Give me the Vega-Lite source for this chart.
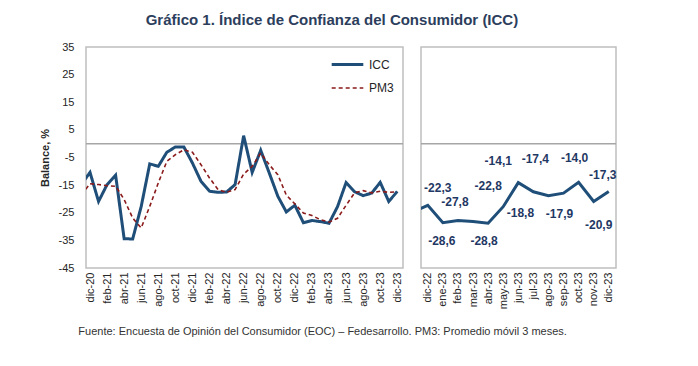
{
  "$schema": "https://vega.github.io/schema/vega-lite/v6.json",
  "padding": {"left": 38, "top": 13, "right": 0, "bottom": 0},
  "background": "white",
  "datasets": {
    "mensual": [
      {"i": -1, "mes": "nov-20", "ICC": -14.7, "PM3": -18.5},
      {"i": 0, "mes": "dic-20", "ICC": -10.4, "PM3": -14.5},
      {"i": 1, "mes": "ene-21", "ICC": -20.9, "PM3": -14.8},
      {"i": 2, "mes": "feb-21", "ICC": -14.8, "PM3": -15.2},
      {"i": 3, "mes": "mar-21", "ICC": -11.4, "PM3": -15.4},
      {"i": 4, "mes": "abr-21", "ICC": -34.4, "PM3": -20.2},
      {"i": 5, "mes": "may-21", "ICC": -34.5, "PM3": -26.9},
      {"i": 6, "mes": "jun-21", "ICC": -22.7, "PM3": -30.5},
      {"i": 7, "mes": "jul-21", "ICC": -7.3, "PM3": -22.7},
      {"i": 8, "mes": "ago-21", "ICC": -8.2, "PM3": -14.2},
      {"i": 9, "mes": "sep-21", "ICC": -3.1, "PM3": -6.4},
      {"i": 10, "mes": "oct-21", "ICC": -1.2, "PM3": -4.0},
      {"i": 11, "mes": "nov-21", "ICC": -1.2, "PM3": -2.2},
      {"i": 12, "mes": "dic-21", "ICC": -7.0, "PM3": -3.1},
      {"i": 13, "mes": "ene-22", "ICC": -13.6, "PM3": -7.6},
      {"i": 14, "mes": "feb-22", "ICC": -17.2, "PM3": -12.4},
      {"i": 15, "mes": "mar-22", "ICC": -17.6, "PM3": -16.6},
      {"i": 16, "mes": "abr-22", "ICC": -17.5, "PM3": -17.6},
      {"i": 17, "mes": "may-22", "ICC": -14.8, "PM3": -16.6},
      {"i": 18, "mes": "jun-22", "ICC": 2.9, "PM3": -11.0},
      {"i": 19, "mes": "jul-22", "ICC": -10.4, "PM3": -8.2},
      {"i": 20, "mes": "ago-22", "ICC": -2.4, "PM3": -3.4},
      {"i": 21, "mes": "sep-22", "ICC": -10.6, "PM3": -7.6},
      {"i": 22, "mes": "oct-22", "ICC": -19.0, "PM3": -11.2},
      {"i": 23, "mes": "nov-22", "ICC": -24.7, "PM3": -18.6},
      {"i": 24, "mes": "dic-22", "ICC": -22.3, "PM3": -21.8},
      {"i": 25, "mes": "ene-23", "ICC": -28.6, "PM3": -25.1},
      {"i": 26, "mes": "feb-23", "ICC": -27.8, "PM3": -26.0},
      {"i": 27, "mes": "mar-23", "ICC": -28.2, "PM3": -27.5},
      {"i": 28, "mes": "abr-23", "ICC": -28.8, "PM3": -28.4},
      {"i": 29, "mes": "may-23", "ICC": -22.8, "PM3": -27.0},
      {"i": 30, "mes": "jun-23", "ICC": -14.1, "PM3": -22.3},
      {"i": 31, "mes": "jul-23", "ICC": -17.4, "PM3": -17.8},
      {"i": 32, "mes": "ago-23", "ICC": -18.8, "PM3": -17.0},
      {"i": 33, "mes": "sep-23", "ICC": -17.9, "PM3": -17.8},
      {"i": 34, "mes": "oct-23", "ICC": -14.0, "PM3": -17.2},
      {"i": 35, "mes": "nov-23", "ICC": -20.9, "PM3": -17.6},
      {"i": 36, "mes": "dic-23", "ICC": -17.3, "PM3": -17.4}
    ],
    "ultimo": [
      {"i": -1, "mes": "nov-22", "ICC": -24.7},
      {"i": 0, "mes": "dic-22", "ICC": -22.3},
      {"i": 1, "mes": "ene-23", "ICC": -28.6},
      {"i": 2, "mes": "feb-23", "ICC": -27.8},
      {"i": 3, "mes": "mar-23", "ICC": -28.2},
      {"i": 4, "mes": "abr-23", "ICC": -28.8},
      {"i": 5, "mes": "may-23", "ICC": -22.8},
      {"i": 6, "mes": "jun-23", "ICC": -14.1},
      {"i": 7, "mes": "jul-23", "ICC": -17.4},
      {"i": 8, "mes": "ago-23", "ICC": -18.8},
      {"i": 9, "mes": "sep-23", "ICC": -17.9},
      {"i": 10, "mes": "oct-23", "ICC": -14.0},
      {"i": 11, "mes": "nov-23", "ICC": -20.9},
      {"i": 12, "mes": "dic-23", "ICC": -17.3}
    ],
    "cero": [{"v": 0}]
  },
  "title": {
    "text": "Fuente: Encuesta de Opinión del Consumidor (EOC) – Fedesarrollo. PM3: Promedio móvil 3 meses.",
    "orient": "bottom",
    "anchor": "start",
    "fontSize": 11,
    "fontWeight": "normal",
    "color": "#333333",
    "offset": 17,
    "dx": 40
  },
  "vconcat": [
    {
      "title": {
        "text": "Gráfico 1. Índice de Confianza del Consumidor (ICC)",
        "anchor": "middle",
        "fontSize": 15,
        "fontWeight": "bold",
        "color": "#2C3E5C",
        "offset": 12,
        "dx": 4
      },
      "spacing": 14,
      "hconcat": [
        {
          "width": 317,
          "height": 221,
          "layer": [
            {
              "data": {"name": "cero"},
              "mark": {"type": "rule", "color": "#A6A6A6", "strokeWidth": 1.5},
              "encoding": {
                "y": {
                  "field": "v", "type": "quantitative",
                  "scale": {"domain": [-45, 35], "nice": false},
                  "axis": {
                    "title": "Balance, %",
                    "titleFontSize": 11,
                    "titleFontWeight": "bold",
                    "titleColor": "#262626",
                    "titlePadding": 8,
                    "values": [35, 25, 15, 5, -5, -15, -25, -35, -45],
                    "labelFontSize": 11,
                    "labelColor": "#262626",
                    "labelPadding": 12,
                    "ticks": false,
                    "domain": false,
                    "grid": false
                  }
                }
              }
            },
            {
              "data": {"name": "mensual"},
              "transform": [{"fold": ["ICC", "PM3"], "as": ["serie", "valor"]}],
              "mark": {"type": "line", "clip": true},
              "encoding": {
                "x": {
                  "field": "i", "type": "quantitative",
                  "scale": {"domain": [-0.47, 36.67], "nice": false, "zero": false},
                  "axis": {
                    "title": null,
                    "values": [0, 2, 4, 6, 8, 10, 12, 14, 16, 18, 20, 22, 24, 26, 28, 30, 32, 34, 36],
                    "labelExpr": "['dic-20','ene-21','feb-21','mar-21','abr-21','may-21','jun-21','jul-21','ago-21','sep-21','oct-21','nov-21','dic-21','ene-22','feb-22','mar-22','abr-22','may-22','jun-22','jul-22','ago-22','sep-22','oct-22','nov-22','dic-22','ene-23','feb-23','mar-23','abr-23','may-23','jun-23','jul-23','ago-23','sep-23','oct-23','nov-23','dic-23'][datum.value]",
                    "labelAngle": 270,
                    "labelAlign": "right",
                    "labelBaseline": "middle",
                    "labelPadding": 4,
                    "labelFontSize": 11,
                    "labelColor": "#262626",
                    "ticks": false,
                    "domain": false,
                    "grid": false,
                    "labelOverlap": false
                  }
                },
                "y": {
                  "field": "valor", "type": "quantitative",
                  "scale": {"domain": [-45, 35], "nice": false},
                  "axis": {
                    "title": "Balance, %",
                    "titleFontSize": 11,
                    "titleFontWeight": "bold",
                    "titleColor": "#262626",
                    "titlePadding": 8,
                    "values": [35, 25, 15, 5, -5, -15, -25, -35, -45],
                    "labelFontSize": 11,
                    "labelColor": "#262626",
                    "labelPadding": 12,
                    "ticks": false,
                    "domain": false,
                    "grid": false
                  }
                },
                "color": {
                  "field": "serie", "type": "nominal",
                  "scale": {"domain": ["ICC", "PM3"], "range": ["#1F4E79", "#8B1A1A"]},
                  "legend": {
                    "title": null, "orient": "none", "legendX": 244, "legendY": 0,
                    "symbolType": "stroke", "symbolSize": 1000, "labelFontSize": 12,
                    "labelColor": "#262626", "rowPadding": -10, "labelOffset": 4, "padding": 0
                  }
                },
                "strokeDash": {
                  "field": "serie", "type": "nominal",
                  "scale": {"domain": ["ICC", "PM3"], "range": [[1, 0], [4, 3]]},
                  "legend": {
                    "title": null, "orient": "none", "legendX": 244, "legendY": 0,
                    "symbolType": "stroke", "symbolSize": 1000, "labelFontSize": 12,
                    "labelColor": "#262626", "rowPadding": -10, "labelOffset": 4, "padding": 0
                  }
                },
                "strokeWidth": {
                  "field": "serie", "type": "nominal",
                  "scale": {"domain": ["ICC", "PM3"], "range": [3, 1.6]},
                  "legend": {
                    "title": null, "orient": "none", "legendX": 244, "legendY": 0,
                    "symbolType": "stroke", "symbolSize": 1000, "labelFontSize": 12,
                    "labelColor": "#262626", "rowPadding": -10, "labelOffset": 4, "padding": 0
                  }
                }
              }
            }
          ]
        },
        {
          "width": 195,
          "height": 221,
          "layer": [
            {
              "data": {"name": "cero"},
              "mark": {"type": "rule", "color": "#A6A6A6", "strokeWidth": 1.5},
              "encoding": {
                "y": {"field": "v", "type": "quantitative", "scale": {"domain": [-45, 35], "nice": false}, "axis": null}
              }
            },
            {
              "data": {"name": "ultimo"},
              "encoding": {
                "x": {
                  "field": "i", "type": "quantitative",
                  "scale": {"domain": [-0.45, 12.48], "nice": false, "zero": false},
                  "axis": {
                    "title": null,
                    "values": [0, 1, 2, 3, 4, 5, 6, 7, 8, 9, 10, 11, 12],
                    "labelExpr": "['dic-22','ene-23','feb-23','mar-23','abr-23','may-23','jun-23','jul-23','ago-23','sep-23','oct-23','nov-23','dic-23'][datum.value]",
                    "labelAngle": 270,
                    "labelAlign": "right",
                    "labelBaseline": "middle",
                    "labelPadding": 4,
                    "labelFontSize": 11,
                    "labelColor": "#262626",
                    "ticks": false,
                    "domain": false,
                    "grid": false,
                    "labelOverlap": false
                  }
                },
                "y": {
                  "field": "ICC", "type": "quantitative",
                  "scale": {"domain": [-45, 35], "nice": false},
                  "axis": null
                },
                "text": {"field": "ICC", "type": "quantitative", "format": ".1f"}
              },
              "layer": [
                {"mark": {"type": "line", "clip": true, "color": "#1F4E79", "strokeWidth": 3}, "encoding": {"text": null}},
                {"transform": [{"filter": "datum.mes == 'dic-22'"}], "mark": {"type": "text", "dx": 10, "dy": -17, "fontSize": 12, "fontWeight": "bold", "color": "#1F3864"}},
                {"transform": [{"filter": "datum.mes == 'ene-23'"}], "mark": {"type": "text", "dx": -1, "dy": 18, "fontSize": 12, "fontWeight": "bold", "color": "#1F3864"}},
                {"transform": [{"filter": "datum.mes == 'feb-23'"}], "mark": {"type": "text", "dx": -3, "dy": -18, "fontSize": 12, "fontWeight": "bold", "color": "#1F3864"}},
                {"transform": [{"filter": "datum.mes == 'abr-23'"}], "mark": {"type": "text", "dx": -4, "dy": 18, "fontSize": 12, "fontWeight": "bold", "color": "#1F3864"}},
                {"transform": [{"filter": "datum.mes == 'may-23'"}], "mark": {"type": "text", "dx": -15, "dy": -21, "fontSize": 12, "fontWeight": "bold", "color": "#1F3864"}},
                {"transform": [{"filter": "datum.mes == 'jun-23'"}], "mark": {"type": "text", "dx": -20, "dy": -22, "fontSize": 12, "fontWeight": "bold", "color": "#1F3864"}},
                {"transform": [{"filter": "datum.mes == 'jul-23'"}], "mark": {"type": "text", "dx": 2, "dy": -33, "fontSize": 12, "fontWeight": "bold", "color": "#1F3864"}},
                {"transform": [{"filter": "datum.mes == 'ago-23'"}], "mark": {"type": "text", "dx": -28, "dy": 17, "fontSize": 12, "fontWeight": "bold", "color": "#1F3864"}},
                {"transform": [{"filter": "datum.mes == 'sep-23'"}], "mark": {"type": "text", "dx": -4, "dy": 21, "fontSize": 12, "fontWeight": "bold", "color": "#1F3864"}},
                {"transform": [{"filter": "datum.mes == 'oct-23'"}], "mark": {"type": "text", "dx": -4, "dy": -24, "fontSize": 12, "fontWeight": "bold", "color": "#1F3864"}},
                {"transform": [{"filter": "datum.mes == 'nov-23'"}], "mark": {"type": "text", "dx": 5, "dy": 24, "fontSize": 12, "fontWeight": "bold", "color": "#1F3864"}},
                {"transform": [{"filter": "datum.mes == 'dic-23'"}], "mark": {"type": "text", "dx": -6, "dy": -16, "fontSize": 12, "fontWeight": "bold", "color": "#1F3864"}}
              ]
            }
          ]
        }
      ]
    }
  ],
  "config": {
    "font": "Liberation Sans",
    "view": {"stroke": "#BFBFBF", "strokeWidth": 1.5},
    "locale": {
      "number": {"decimal": ",", "thousands": ".", "grouping": [3], "currency": ["", ""], "minus": "-"}
    }
  }
}
